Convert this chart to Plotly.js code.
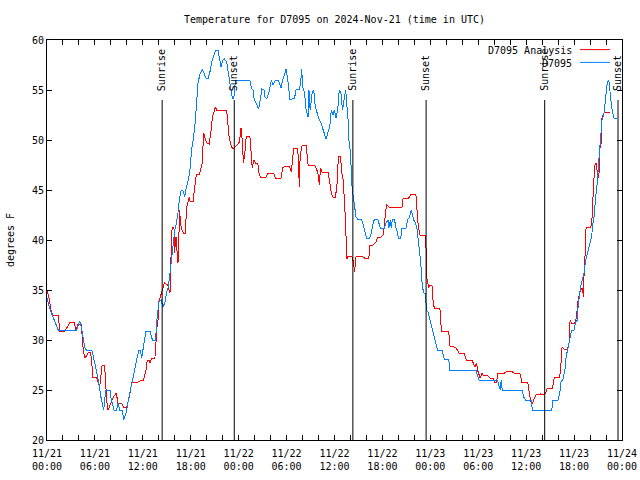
<!DOCTYPE html>
<html>
<head>
<meta charset="utf-8">
<script src="https://cdn.plot.ly/plotly-3.0.1.min.js"></script>
<style>
html,body{margin:0;padding:0;background:#fff;}
#chart{width:640px;height:480px;}
#chart path.js-line{shape-rendering:crispEdges;}
</style>
</head>
<body>
<div id="chart"></div>
<script>
// Hours since 2024-11-21 00:00 UTC
const analysisHours = [0,0.3,0.5,0.7,1.4,1.6,2.25,2.55,2.9,3.4,3.6,3.9,4.3,4.5,4.7,4.85,5.2,5.4,5.6,5.7,6.2,6.4,6.6,6.9,7.2,7.35,7.45,7.65,7.95,8.3,8.7,8.85,9.35,9.6,10.0,10.3,10.6,10.8,11.4,11.85,12.1,12.4,12.55,12.8,12.9,13.1,13.5,13.6,13.7,13.9,14.0,14.5,14.7,15.1,15.4,15.45,15.6,15.67,15.9,15.95,16.15,16.3,16.4,16.55,16.6,16.75,16.9,17.1,17.3,17.5,17.8,17.9,18.3,18.5,18.7,19.1,19.45,19.6,19.8,20.0,20.3,20.6,20.7,20.9,21.1,21.3,21.6,22.5,22.6,22.8,23.1,23.3,23.7,24.1,24.3,24.45,24.6,24.75,24.95,25.4,25.6,25.7,25.9,26.1,26.4,26.5,26.7,27.4,27.7,28.4,28.6,29.3,29.5,29.8,30.4,30.6,30.8,30.9,31.4,31.6,31.7,31.95,32.45,32.7,33.5,33.7,33.9,34.1,34.25,34.45,35.2,35.4,35.6,35.8,36.1,36.3,36.4,36.55,36.75,36.9,37.1,37.35,37.45,37.55,37.7,38.15,38.3,38.4,38.5,38.7,39.3,39.55,39.75,40.3,40.45,40.8,41.2,41.4,41.8,42.1,42.3,42.5,42.85,44.45,44.6,45.15,45.4,45.6,46.0,46.2,46.3,46.5,46.7,47.4,47.5,47.55,47.8,47.9,48.2,48.35,48.5,49.2,49.3,49.45,50.3,50.45,51.0,51.2,51.4,51.6,52.2,52.4,52.5,53.2,53.4,53.6,53.8,53.9,54.05,54.2,54.3,54.45,54.6,55.1,55.45,55.9,56.0,56.3,56.45,57.3,57.5,57.7,58.1,58.3,58.5,59.1,59.3,59.45,60.2,60.4,60.6,60.8,61.0,61.2,61.8,62.1,62.45,62.65,63.3,63.5,63.7,64.2,64.3,64.5,64.75,65.2,65.4,65.5,65.7,66.1,66.3,66.5,66.7,67.0,67.2,67.25,67.45,67.5,68.1,68.3,68.4,68.6,68.8,68.9,69.1,69.25,69.4,69.5,69.75,70.0,70.45];
const analysisTemp = [35,34,33,32.5,32.5,30.9,30.9,31.3,31.8,31.8,31,31.6,31.6,29.3,28.3,28.3,28.8,28.8,28,26.3,26.3,25.8,25.3,27.5,27.5,25.8,24,23,23.7,24.3,24.7,23.7,23.7,23.3,23.3,24.3,25.7,25.8,25.8,26,26,27,28,28,27.7,28.2,28.2,28.8,30.8,32,33.8,35,35.7,35.5,34.7,36.7,39.7,41.3,41.3,38.7,40.3,38.7,37.7,41.2,43,41.5,41,40.7,40.7,43.3,44.3,43.9,43.9,45.3,46.5,46.6,47.7,50.7,50.2,49.7,49.6,51.2,52.3,52.8,53.3,52.9,53,53,51.7,50.3,49.3,49.1,49.4,49.8,51.2,50,47.7,48.5,50.4,50.4,48.3,47.2,48,47.7,47.7,46.8,46.3,46.3,46.7,46.7,46.2,46.2,47.2,47.4,47.3,46.8,48.5,49.2,49.2,45.3,48.5,49.5,49.5,47.5,47.5,47.2,46.8,45.5,47.2,46.8,46.8,45.8,44.7,44.3,44.3,45.3,47.3,48.4,48.4,46.7,46,42.3,39.5,38.1,38.4,38.4,38,37.7,36.8,38.3,38.4,38.3,38.2,38.2,39.5,39.5,39.8,40.3,40.3,40.5,42,43.5,43.3,43.3,44.2,44.1,44.3,44.6,44.6,44.5,43.3,41.3,40.5,40.5,38.3,36.2,35.2,35.5,35.5,33.8,33.2,33.2,31.7,30.9,30.9,29.4,29.3,29.2,29,28.7,28.7,28.3,28,28,27.7,27.3,27.7,27,26.7,26.2,26.3,26.7,26.5,26.5,26.2,26.2,25.8,25.8,26.7,26.7,26.8,26.9,26.9,26.8,26.7,26.7,26.5,25.8,25.8,24.7,23.8,23.7,24.2,24.5,24.6,24.5,24.7,25.2,25.2,26.2,26.3,26.3,27,29.3,29.1,29.1,29.8,32,31.7,31.7,32.3,34,34.7,35.2,34.3,36.7,39.5,41.3,41.3,42.5,45,47.5,47.7,46.7,46.2,49.3,49.7,52.3,52.7,52.8,52.8];

const obsHours = [0,0.4,0.9,1.4,3.7,4.0,4.1,4.3,4.5,4.75,4.95,5.6,5.9,6.2,6.5,6.75,7.1,7.35,7.9,8.0,8.4,8.7,8.9,9.1,9.45,9.6,9.9,10.2,10.5,10.7,11.0,11.3,11.5,11.7,11.85,12.0,12.2,12.4,12.9,13.2,13.6,13.7,14.0,14.3,14.5,14.75,14.96,15.2,15.3,15.45,15.7,15.9,16.0,16.2,16.4,16.6,16.8,17.0,17.25,17.45,17.7,17.9,18.1,18.3,18.5,18.7,18.9,19.2,19.45,19.6,19.9,20.2,20.4,20.6,20.9,21.1,21.4,21.6,21.8,22.0,22.2,22.5,22.75,23.0,23.2,23.4,23.6,25.4,25.6,25.8,25.9,26.3,26.5,26.7,26.9,27.2,27.3,27.5,27.8,28.1,28.3,28.6,28.9,29.1,29.3,29.5,29.75,29.95,30.2,30.4,30.7,31.0,31.2,31.6,31.75,31.9,32.0,32.25,32.45,32.7,32.8,32.95,33.2,33.4,33.6,33.8,34.1,34.3,34.5,34.75,34.95,35.2,35.4,35.6,35.8,36.0,36.2,36.4,36.6,36.8,37.0,37.2,37.4,37.7,37.75,38.0,38.1,38.2,38.4,38.5,38.7,38.9,39.3,39.55,39.75,40.0,40.4,40.6,40.8,41.0,41.4,41.6,41.75,42.25,42.45,42.7,42.8,43.0,43.1,43.25,43.5,43.7,43.9,44.0,44.3,44.45,44.95,45.15,45.4,45.6,45.8,45.9,46.1,46.3,46.4,46.6,46.8,47.0,47.2,47.4,47.5,47.7,47.9,48.1,48.3,48.5,48.7,48.9,49.45,49.6,49.75,50.3,50.45,53.7,53.9,54.1,56.4,56.6,56.75,56.875,57.0,59.5,59.7,59.9,60.6,60.8,63.2,63.35,64.0,64.2,64.4,64.6,64.9,65.0,65.25,65.5,65.7,66.0,66.2,66.4,66.5,66.8,67.05,67.25,67.45,67.7,67.9,68.2,68.3,68.5,68.7,68.9,69.1,69.3,69.5,69.75,69.95,70.15,70.35,70.5,70.7,70.9,71.0,71.4];
const obsTemp = [34.2,33,32,31,31,31.6,31.9,31.3,30.3,29.2,29,29,28,27,25.7,24.3,23,25,25,24.2,23,23,23.7,23,23,22,22.7,24,25.2,26.2,27.3,28.3,29,29,28.2,29,30,30.9,30.9,30,30,31.5,33.8,34,33.3,33.7,34.7,35.3,36,37,38.7,40,41,41.7,42.7,44.2,45,45,44.3,45.3,46,47,49,50,51.3,53.3,55.7,56.7,57,56.8,56.2,56.2,56.8,57.7,58.5,59,59,58.3,57.3,58,58.1,57.8,56.3,55.2,54.2,54.2,56,56,55.2,55,54.2,53.5,53.1,54,55.1,55,54.3,54.1,54.8,56,55.5,56,56,55.7,55.2,56,56.7,57.1,55.7,54.1,54.1,54.2,55.1,55.1,55.7,57.1,55.3,54.7,53,52.3,55,53,54.7,55,53.3,52.7,52,51.7,51.2,50.7,50.1,50.8,51.3,53,52.5,53,52.2,53,55,54.7,53,54,55,52,50.3,48.7,47,45.3,44,43.2,42.3,42.1,42.1,41.7,41,40.2,40.2,40.7,41.5,42.1,42.1,41.5,41.2,41.2,41.7,42,41.2,42,41.2,42.1,42.1,41.2,40.7,40.2,40.2,41.2,41.2,42,42.3,43,42.5,42,41.8,41.3,40.5,39.3,37.7,35.3,34.7,34.7,33,32.8,32.2,31.5,30.8,30.2,29.8,29,29,28.5,28.1,28.1,27,27,26.5,26,26,25.5,25,26,25,25,24.3,24,24,23,23,24,24,24.7,26,26,27.2,28.3,29.3,30.2,31,31,31.8,32,33.3,35.3,36,36.7,38,38.7,39.3,40.3,41.3,42.3,44.3,45.7,48,50.3,52,52.7,54,55.7,56,54.7,53.3,52.5,52.2,52.2];

const sunHours = [14.42, 23.45, 38.3, 47.47, 62.32, 71.5];
const sunLabels = ['Sunrise','Sunset','Sunrise','Sunset','Sunrise','Sunset'];

const seriesNames = ['D7095 Analysis', 'D7095'];
const seriesColors = ['#ff0000', '#0080ff'];

const base = Date.UTC(2024, 10, 21, 0, 0, 0);
function toDate(h) {
  return new Date(base + h * 3600000).toISOString().replace('T', ' ').slice(0, 19);
}

const FONT = 'DejaVu Sans Mono, Liberation Mono, monospace';

const traces = [
  {x: analysisHours.map(toDate), y: analysisTemp, name: seriesNames[0], type: 'scatter', mode: 'lines',
   line: {color: seriesColors[0], width: 1}},
  {x: obsHours.map(toDate), y: obsTemp, name: seriesNames[1], type: 'scatter', mode: 'lines',
   line: {color: seriesColors[1], width: 1}}
];

const shapes = [];
const annotations = [];
sunHours.forEach((h, i) => {
  shapes.push({type: 'line', xref: 'x', yref: 'paper', x0: toDate(h), x1: toDate(h), y0: 0, y1: 0.85,
    line: {color: '#000', width: 1}});
  annotations.push({xref: 'x', yref: 'paper', x: toDate(h), y: 0.8675, text: sunLabels[i], textangle: -90,
    showarrow: false, xanchor: 'center', yanchor: 'bottom', font: {family: FONT, size: 10, color: '#000'}});
});

// legend drawn gnuplot style (text, then sample line)
const legendY = [0.976, 0.944];
seriesNames.forEach((n, i) => {
  annotations.push({xref: 'paper', yref: 'paper', x: 0.917, y: legendY[i] - 0.002, text: n, showarrow: false,
    xanchor: 'right', yanchor: 'middle', font: {family: FONT, size: 10, color: '#000'}});
  shapes.push({type: 'line', xref: 'paper', yref: 'paper', x0: 0.927, x1: 0.979, y0: legendY[i], y1: legendY[i],
    line: {color: seriesColors[i], width: 1}});
});

const layout = {
  width: 640, height: 480,
  margin: {l: 47, r: 18, t: 40, b: 40},
  paper_bgcolor: '#fff', plot_bgcolor: '#fff',
  showlegend: false,
  font: {family: FONT, size: 10, color: '#000'},
  title: {text: 'Temperature for D7095 on 2024-Nov-21 (time in UTC)', font: {family: FONT, size: 10, color: '#000'},
    x: 0.5, xref: 'paper', y: 1 - 19/480, yanchor: 'middle'},
  xaxis: {type: 'date', range: [toDate(0), toDate(72)], tick0: toDate(0), dtick: 6*3600000,
    tickformat: '%m/%d<br>%H:%M', ticks: 'inside', ticklen: 5, tickcolor: '#000', ticklabelstandoff: 4,
    minor: {dtick: 2*3600000, tick0: toDate(0), ticks: 'inside', ticklen: 5, tickcolor: '#000', showgrid: false},
    showline: true, linecolor: '#000', linewidth: 1, mirror: 'ticks', showgrid: false, zeroline: false,
    tickfont: {family: FONT, size: 10, color: '#000'}},
  yaxis: {range: [20, 60], dtick: 5, tick0: 20, ticks: 'inside', ticklen: 5, tickcolor: '#000',
    showline: true, linecolor: '#000', linewidth: 1, mirror: 'ticks', showgrid: false, zeroline: false,
    tickfont: {family: FONT, size: 10, color: '#000'},
    title: {text: 'degrees F', standoff: 15, font: {family: FONT, size: 10, color: '#000'}}},
  shapes: shapes,
  annotations: annotations
};

Plotly.newPlot('chart', traces, layout, {staticPlot: true, displayModeBar: false});
</script>
</body>
</html>
